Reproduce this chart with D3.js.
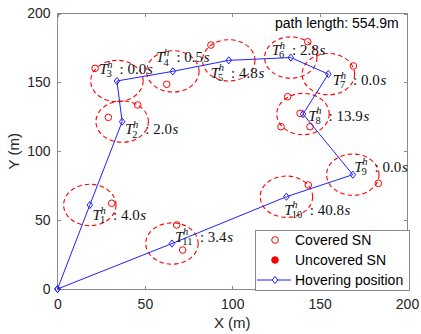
<!DOCTYPE html>
<html><head><meta charset="utf-8">
<script src="https://cdn.jsdelivr.net/npm/d3@7"></script>
<style>body{margin:0;background:#fff}svg{display:block}</style>
</head><body>
<svg id="c" width="421" height="334"></svg>
<script>
// ---- data ----
const xTicks = [0, 50, 100, 150, 200];
const yTicks = [0, 50, 100, 150, 200];
const hoverX = [0, 18.5, 37, 34, 66, 98, 133.5, 155, 140.5, 169, 131, 65.5, 0];
const hoverY = [0, 61, 121.5, 151, 158, 166, 168, 156, 127, 83, 67, 33, 0];
const hoverIdx = ["1","2","3","4","5","6","7","8","9","10","11"];
const hoverTimes = ["4.0","2.0","0.0","0.5","4.8","2.8","0.0","13.9","0.0","40.8","3.4"];
const labelX = [20.1, 38.6, 23.9, 56.4, 87.7, 122.6, 157.5, 143.5, 169.8, 129.8, 67.2];
const labelY = [53.7, 115.9, 159.5, 168.2, 157.0, 173.5, 151.7, 125.6, 88.8, 57.4, 38.0];
const snX = [21.5, 62.5, 45.9, 29.1, 87.8, 143.2, 169.3, 131.7, 138.8, 127.9, 144.5, 31.0, 68.2, 71.6, 143.5, 183.6];
const snY = [160.2, 148.6, 133.6, 124.6, 177.1, 179.5, 161.9, 139.6, 127.5, 117.8, 117.8, 62.2, 46.5, 28.3, 75.5, 76.7];
const coverRadius = 15;
const pathLength = "554.9";
const legendLabels = ["Covered SN", "Uncovered SN", "Hovering position"];

// ---- drawing ----
const svg = d3.select("#c");
const x = d3.scaleLinear().domain([0, 200]).range([57.5, 407]);
const y = d3.scaleLinear().domain([0, 200]).range([289, 13.5]);
const axisCol = "#8a8a8a", textCol = "#262626";
const sans = "'Liberation Sans', Arial, sans-serif";
const serif = "'Liberation Serif', 'Times New Roman', serif";

// box
svg.append("rect").attr("x", x(0)).attr("y", y(200)).attr("width", x(200)-x(0)).attr("height", y(0)-y(200))
  .attr("fill", "none").attr("stroke", axisCol).attr("stroke-width", 1).attr("shape-rendering", "crispEdges");

// axes via d3 axis
const gx = svg.append("g").attr("transform", `translate(0,${y(0)})`)
  .call(d3.axisBottom(x).tickValues(xTicks).tickSizeInner(-3.5).tickSizeOuter(0).tickPadding(10));
const gxt = svg.append("g").attr("transform", `translate(0,${y(200)})`)
  .call(d3.axisTop(x).tickValues(xTicks).tickSizeInner(-3.5).tickSizeOuter(0).tickFormat(""));
const gy = svg.append("g").attr("transform", `translate(${x(0)},0)`)
  .call(d3.axisLeft(y).tickValues(yTicks).tickSizeInner(-3.5).tickSizeOuter(0).tickPadding(7));
const gyr = svg.append("g").attr("transform", `translate(${x(200)},0)`)
  .call(d3.axisRight(y).tickValues(yTicks).tickSizeInner(-3.5).tickSizeOuter(0).tickFormat(""));
[gx, gxt, gy, gyr].forEach(g => {
  g.select(".domain").remove();
  g.selectAll(".tick line").attr("stroke", axisCol).attr("shape-rendering", "crispEdges");
  g.selectAll(".tick text").attr("fill", textCol).attr("font-family", sans).attr("font-size", 14);
});

// axis titles
svg.append("text").attr("x", (x(0)+x(200))/2).attr("y", 328).attr("text-anchor", "middle")
  .attr("font-family", sans).attr("font-size", 15).attr("fill", textCol).text("X (m)");
svg.append("text").attr("transform", `translate(19,${(y(0)+y(200))/2}) rotate(-90)`).attr("text-anchor", "middle")
  .attr("font-family", sans).attr("font-size", 15).attr("fill", textCol).text("Y (m)");

// coverage circles
const rx = x(coverRadius) - x(0), ry = y(0) - y(coverRadius);
svg.append("g").selectAll("ellipse").data(hoverIdx).join("ellipse")
  .attr("cx", (d, i) => x(hoverX[i+1])).attr("cy", (d, i) => y(hoverY[i+1]))
  .attr("rx", rx).attr("ry", ry).attr("fill", "none").attr("stroke", "#ff0000")
  .attr("stroke-width", 1.1).attr("stroke-dasharray", "4.5,3");

// SN markers
svg.append("g").selectAll("circle").data(snX).join("circle")
  .attr("cx", (d, i) => x(snX[i])).attr("cy", (d, i) => y(snY[i])).attr("r", 3.3)
  .attr("fill", "none").attr("stroke", "#ff0000").attr("stroke-width", 1);

// UAV path
const line = d3.line().x(i => x(hoverX[i])).y(i => y(hoverY[i]));
svg.append("path").attr("d", line(d3.range(hoverX.length))).attr("fill", "none")
  .attr("stroke", "#1f1fff").attr("stroke-width", 1);
const diamond = (cx, cy) => `M${cx},${cy-3.6}L${cx+2.8},${cy}L${cx},${cy+3.6}L${cx-2.8},${cy}Z`;
svg.append("g").selectAll("path").data(hoverX).join("path")
  .attr("d", (d, i) => diamond(x(hoverX[i]), y(hoverY[i])))
  .attr("fill", "none").attr("stroke", "#1f1fff").attr("stroke-width", 1);

// labels (each one text element with tspans)
const lg = svg.append("g").attr("font-family", serif).attr("fill", "#111");
const meas = lg.append("text").attr("font-size", 15).attr("font-style", "italic").text("T");
const tW = meas.node().getComputedTextLength();
meas.remove();
const measSub = lg.append("text").attr("font-size", 10.5);
hoverIdx.forEach((idx, i) => {
  const px = x(labelX[i]), by = y(labelY[i]) + 5;
  measSub.text(idx);
  const sw = measSub.node().getComputedTextLength();
  const sx = px + tW - 1;
  const t = lg.append("text").attr("font-size", 15);
  t.append("tspan").attr("x", px).attr("y", by).attr("font-style", "italic").text("T");
  t.append("tspan").attr("x", sx + 0.6).attr("y", by - 6.5).attr("font-size", 10.5).attr("font-style", "italic").text("h");
  t.append("tspan").attr("x", sx).attr("y", by + 3.2).attr("font-size", 10.5).text(idx);
  t.append("tspan").attr("x", sx + Math.max(sw, 5.5) + 7.5).attr("y", by).text(":");
  t.append("tspan").attr("dx", 3.8).text(hoverTimes[i]);
  t.append("tspan").attr("font-style", "italic").attr("dx", 0.6).text("s");
});
measSub.remove();

// path length annotation
svg.append("text").attr("x", 275).attr("y", 28).attr("font-family", sans).attr("font-size", 14)
  .attr("fill", "#000").text(`path length: ${pathLength}m`);

// legend
const L = svg.append("g");
L.append("rect").attr("x", 255).attr("y", 230).attr("width", 154).attr("height", 60)
  .attr("fill", "#fff").attr("stroke", axisCol).attr("stroke-width", 1).attr("shape-rendering", "crispEdges");
const ly = [240, 260, 280];
L.append("circle").attr("cx", 275).attr("cy", ly[0]).attr("r", 3.3).attr("fill", "none").attr("stroke", "#ff0000");
L.append("circle").attr("cx", 275).attr("cy", ly[1]).attr("r", 3.3).attr("fill", "#ff0000").attr("stroke", "#ff0000");
L.append("line").attr("x1", 257).attr("x2", 291).attr("y1", ly[2]).attr("y2", ly[2]).attr("stroke", "#1f1fff");
L.append("path").attr("d", diamond(275, ly[2])).attr("fill", "#fff").attr("stroke", "#1f1fff");
L.selectAll("text").data(legendLabels).join("text")
  .attr("x", 295).attr("y", (d, i) => ly[i] + 5).attr("font-family", sans).attr("font-size", 14)
  .attr("fill", "#000").text(d => d);
</script>
</body></html>
